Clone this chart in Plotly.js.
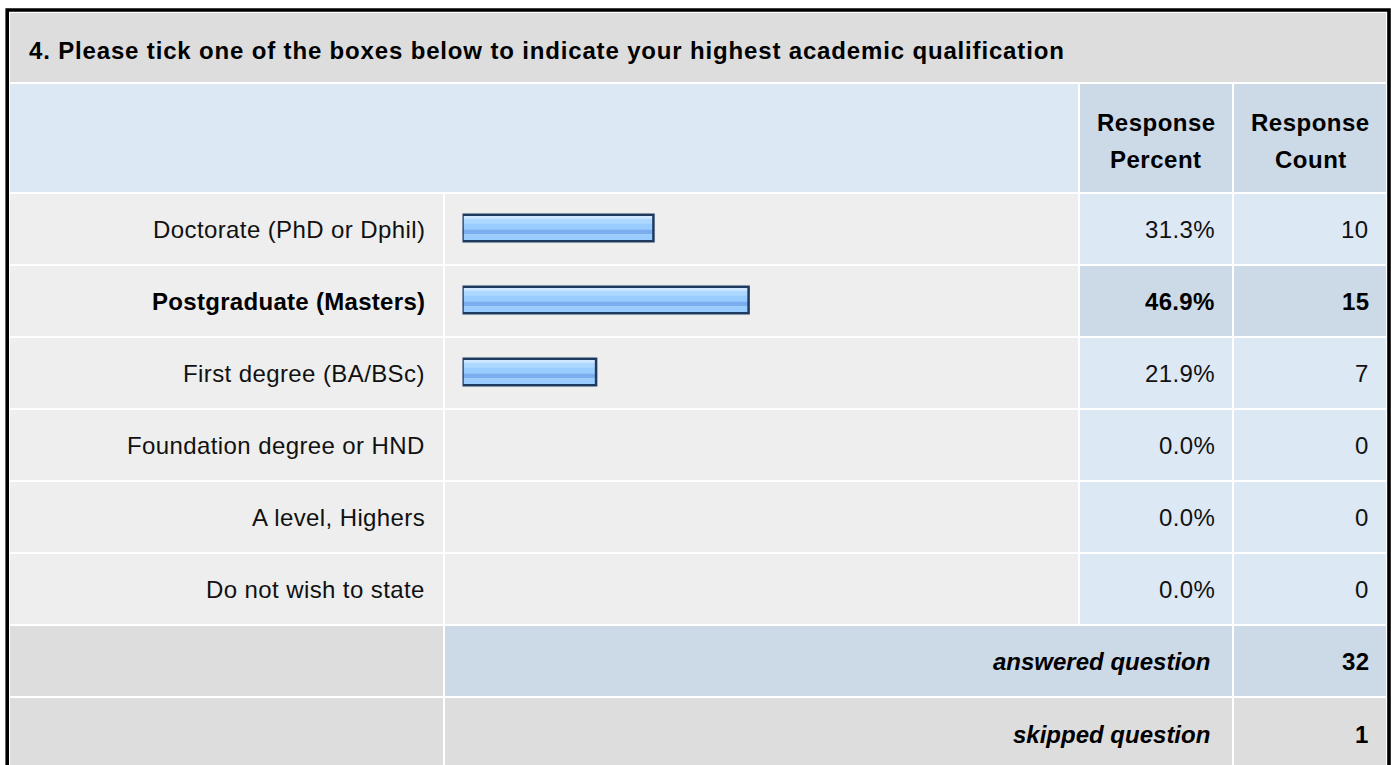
<!DOCTYPE html>
<html>
<head>
<meta charset="utf-8">
<script src="https://cdn.plot.ly/plotly-3.0.1.min.js"></script>
<style>
  html, body { margin: 0; padding: 0; background: #ffffff; }
  #chart { width: 1391px; height: 765px; }
</style>
</head>
<body>
<div id="chart"></div>
<script>
// ---------------- DATA ----------------
const questionTitle = "4. Please tick one of the boxes below to indicate your highest academic qualification";
const categories = [
  "Doctorate (PhD or Dphil)",
  "Postgraduate (Masters)",
  "First degree (BA/BSc)",
  "Foundation degree or HND",
  "A level, Highers",
  "Do not wish to state"
];
const responsePercent = [31.3, 46.9, 21.9, 0.0, 0.0, 0.0];
const responseCount = [10, 15, 7, 0, 0, 0];
const headerPercent = ["Response", "Percent"];
const headerCount = ["Response", "Count"];
const answeredLabel = "answered question";
const answeredCount = 32;
const skippedLabel = "skipped question";
const skippedCount = 1;

// ---------------- LAYOUT HELPERS ----------------
const W = 1391, H = 765;
const px = x => x / W;
const py = y => 1 - y / H;
const FONT = "Liberation Sans, Arial, sans-serif";
const FS = 24;
const ROW = 72;            // pixel height of one category band
const ROW0 = 192;          // top of first band

const hi = responseCount.indexOf(Math.max(...responseCount));

const C_GRAY = "#dddddd", C_LGRAY = "#eeeeee", C_BLUE = "#dde8f5", C_DBLUE = "#ccd9e7";

const sp = (s, ls) => '<span style="letter-spacing:' + ls + 'px">' + s + '</span>';

const shapes = [];
function cell(x0, y0, x1, y1, color) {
  shapes.push({type: "rect", xref: "paper", yref: "paper", layer: "below",
    x0: px(x0), x1: px(x1), y0: py(y1), y1: py(y0),
    fillcolor: color, line: {width: 0}});
}
// title
cell(10, 13, 1386, 82, C_GRAY);
// header
cell(10, 84, 1078, 192, C_BLUE);
cell(1080, 84, 1232, 192, C_DBLUE);
cell(1234, 84, 1386, 192, C_DBLUE);
// category rows
categories.forEach((c, k) => {
  const t = ROW0 + 2 + ROW * k, b = ROW0 + ROW * (k + 1);
  cell(10, t, 443, b, C_LGRAY);
  cell(445, t, 1078, b, C_LGRAY);
  const col = k === hi ? C_DBLUE : C_BLUE;
  cell(1080, t, 1232, b, col);
  cell(1234, t, 1386, b, col);
});
const aTop = ROW0 + 2 + ROW * categories.length, aBot = aTop + ROW - 2;
cell(10, aTop, 443, aBot, C_GRAY);
cell(445, aTop, 1232, aBot, C_DBLUE);
cell(1234, aTop, 1386, aBot, C_DBLUE);
const sTop = aBot + 2, sBot = sTop + ROW + 10;
cell(10, sTop, 443, sBot, C_GRAY);
cell(445, sTop, 1232, sBot, C_GRAY);
cell(1234, sTop, 1386, sBot, C_GRAY);
// outer black frame
shapes.push({type: "rect", xref: "paper", yref: "paper", layer: "above",
  x0: px(7.2), x1: px(1389), y0: py(800), y1: py(10),
  fillcolor: "rgba(0,0,0,0)", line: {color: "#000000", width: 3.6}});

// ---------------- BARS (gradient via stripes) ----------------
// stripes: [top px from band centre, height px, colour]
const stripes = [
  [-13.0, 4.0, "#cfe8ff"],
  [-9.2, 4.9, "#add8ff"],
  [-4.5, 6.2, "#99ccff"],
  [1.5, 5.1, "#78adef"],
  [6.5, 6.8, "#99ccff"]
];
const traces = stripes.map(s => ({
  type: "bar", orientation: "h",
  x: responsePercent, y: categories,
  offset: s[0] / ROW, width: s[1] / ROW,
  marker: {color: s[2], line: {width: 0}},
  hoverinfo: "skip", showlegend: false
}));
const outlineW = 2.5, outerH = 29;
traces.push({
  type: "bar", orientation: "h",
  x: responsePercent.map(v => v > 0 ? v : null), y: categories,
  offset: -(outerH - outlineW) / 2 / ROW, width: (outerH - outlineW) / ROW,
  marker: {color: "rgba(0,0,0,0)", line: {color: "#1f3a5f", width: outlineW}},
  hoverinfo: "skip", showlegend: false
});

// ---------------- TEXT ----------------
const annotations = [];
function txt(text, x, y, anchor, opts = {}) {
  annotations.push(Object.assign({
    text: text, xref: "paper", yref: "paper", x: px(x), y: py(y),
    xanchor: anchor, align: anchor === "right" ? "right" : (anchor === "left" ? "left" : "center"),
    yanchor: "middle", showarrow: false,
    font: {family: FONT, size: FS, color: "#111111"}
  }, opts));
}
const BF = {family: FONT, size: FS, color: "#000"};
txt("<b>" + sp(questionTitle, 0.84) + "</b>", 27, 51, "left", {font: BF});
txt("<b>" + sp(headerPercent[0], 0.5) + "</b>", 1156, 123, "center", {font: BF});
txt("<b>" + sp(headerPercent[1], 0.5) + "</b>", 1156, 159, "center", {font: BF});
txt("<b>" + sp(headerCount[0], 0.5) + "</b>", 1310.5, 123, "center", {font: BF});
txt("<b>" + sp(headerCount[1], 0.5) + "</b>", 1310.5, 159, "center", {font: BF});

categories.forEach((c, k) => {
  const b = k === hi;
  const wrap = s => b ? "<b>" + sp(s, 0.3) + "</b>" : sp(s, 0.4);
  const col = b ? "#000" : "#111111";
  const common = {yref: "y", y: c, yshift: -1, align: "right", xanchor: "right",
    yanchor: "middle", showarrow: false, xref: "paper",
    font: {family: FONT, size: FS, color: col}};
  annotations.push(Object.assign({text: wrap(c), x: px(426.5)}, common));
  annotations.push(Object.assign({text: wrap(responsePercent[k].toFixed(1) + "%"), x: px(1216.5)}, common));
  annotations.push(Object.assign({text: wrap(String(responseCount[k])), x: px(1371)}, common));
});
const aMid = (aTop + aBot) / 2, sMid = sTop + 35 + 1;
txt("<b><i>" + answeredLabel + "</i></b>", 1212, aMid, "right", {font: BF});
txt("<b>" + sp(String(answeredCount), 0.3) + "</b>", 1371, aMid, "right", {font: BF});
txt("<b><i>" + skippedLabel + "</i></b>", 1212, sMid, "right", {font: BF});
txt("<b>" + sp(String(skippedCount), 0.3) + "</b>", 1371, sMid, "right", {font: BF});

// ---------------- AXES ----------------
const x0px = 462.5, pxPerPct = 6.1;
const layout = {
  width: W, height: H, autosize: false,
  margin: {l: 0, r: 0, t: 0, b: 0, pad: 0},
  paper_bgcolor: "#ffffff", plot_bgcolor: "rgba(0,0,0,0)",
  barmode: "overlay", showlegend: false,
  xaxis: {domain: [px(x0px), px(x0px + 100 * pxPerPct)], range: [0, 100],
    visible: false, fixedrange: true},
  yaxis: {domain: [py(ROW0 + ROW * categories.length), py(ROW0)],
    type: "category", categoryorder: "array", categoryarray: categories,
    range: [categories.length - 0.5, -0.5], visible: false, fixedrange: true},
  shapes: shapes, annotations: annotations
};
Plotly.newPlot("chart", traces, layout, {displayModeBar: false, staticPlot: true});
</script>
</body>
</html>
